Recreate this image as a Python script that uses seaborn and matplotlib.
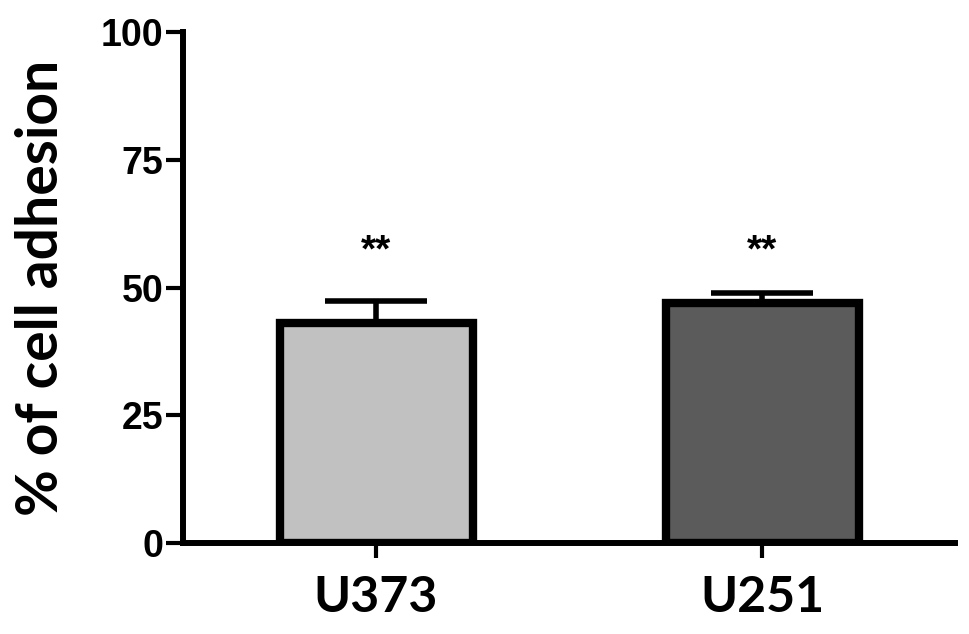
import pandas as pd
import matplotlib
matplotlib.use("Agg")
import matplotlib.pyplot as plt
import seaborn as sns

# values
cell_lines = ["U373", "U251"]
adhesion_mean = [43.0, 47.0]
adhesion_err = [4.4, 1.9]
bar_colors = ["#c1c1c1", "#5b5b5b"]
star_labels = ["**", "**"]
star_y = [57, 57]
y_ticks = [0, 25, 50, 75, 100]

df = pd.DataFrame({"cell": cell_lines, "adhesion": adhesion_mean})

sns.set_style("ticks")
plt.rcParams["font.family"] = ["Liberation Sans", "DejaVu Sans"]
plt.rcParams["text.color"] = "black"
plt.rcParams["axes.labelcolor"] = "black"

fig = plt.figure(figsize=(9.69, 6.34), dpi=100)
ax = fig.add_axes([0.1889, 0.1435, 0.7967, 0.806])

sns.barplot(data=df, x="cell", y="adhesion", hue="cell", palette=bar_colors,
            legend=False, width=0.5, edgecolor="black", linewidth=6, ax=ax,
            zorder=3)

# upward-only error bars, GraphPad style
ax.errorbar(range(len(cell_lines)), adhesion_mean,
            yerr=[[0] * len(adhesion_err), adhesion_err],
            fmt="none", ecolor="black", elinewidth=4, capsize=37, capthick=4,
            zorder=2)

for i, (lab, yy) in enumerate(zip(star_labels, star_y)):
    ax.text(i, yy, lab, ha="center", va="center", fontsize=28,
            fontweight="bold", color="black")

ax.set_xlim(-0.5, 1.5)
ax.set_ylim(0, 100)
ax.set_yticks(y_ticks)
ax.set_yticklabels([str(t) for t in y_ticks], fontsize=27, fontweight="bold")
ax.set_xticks(range(len(cell_lines)))
ax.set_xticklabels(cell_lines, fontsize=36, fontweight="bold", family="Lato")
ax.set_xlabel("")
ax.set_ylabel("% of cell adhesion", fontsize=41, fontweight="bold",
              family="Lato", labelpad=24, color="black")

sns.despine(ax=ax)
for side in ["left", "bottom"]:
    ax.spines[side].set_linewidth(4.3)
    ax.spines[side].set_color("black")
ax.tick_params(axis="y", length=12, width=3, pad=2, colors="black")
ax.tick_params(axis="x", length=11, width=3, pad=12, colors="black")

fig.savefig("out.png", dpi=100)
plt.close(fig)
